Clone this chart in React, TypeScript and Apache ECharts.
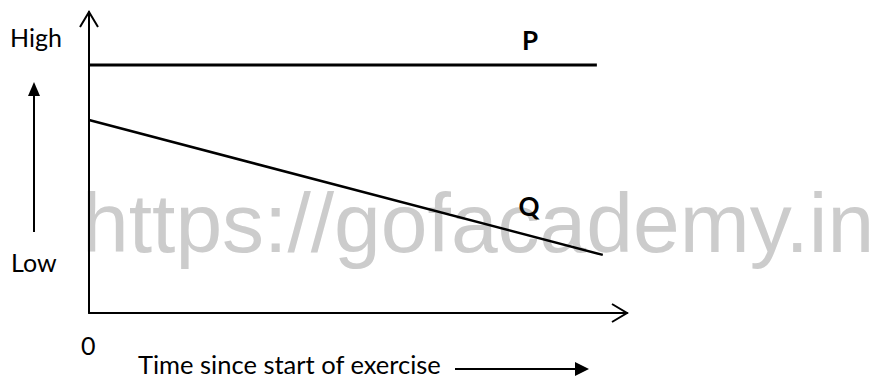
import React, { useEffect, useRef } from "react";
import * as echarts from "echarts";

const lineNames = ["P", "Q"];
const pData: [number, number][] = [
  [0, 82.4],
  [94.4, 82.4],
];
const qData: [number, number][] = [
  [0, 64.1],
  [95.5, 19.3],
];
const yLabels = ["High", "Low"];
const xLabel = "Time since start of exercise";
const originLabel = "0";
const watermark = "https://gofacademy.in";

export default function App() {
  const ref = useRef<HTMLDivElement>(null);
  useEffect(() => {
    if (!ref.current) return;
    const chart = echarts.init(ref.current, null, { renderer: "svg" });
    const labelFont = "Lato, 'Open Sans', sans-serif";
    chart.setOption({
      animation: false,
      backgroundColor: "#ffffff",
      grid: { left: 89, right: 246, top: 12, bottom: 65 },
      xAxis: {
        type: "value",
        min: 0,
        max: 100,
        axisLine: { show: true, lineStyle: { color: "#000", width: 2 } },
        axisTick: { show: false },
        axisLabel: { show: false },
        splitLine: { show: false },
      },
      yAxis: {
        type: "value",
        min: 0,
        max: 100,
        axisLine: { show: true, onZero: false, lineStyle: { color: "#000", width: 2 } },
        axisTick: { show: false },
        axisLabel: { show: false },
        splitLine: { show: false },
      },
      series: [
        {
          name: lineNames[0],
          type: "line",
          data: pData,
          showSymbol: false,
          lineStyle: { color: "#000", width: 3 },
          z: 5,
        },
        {
          name: lineNames[1],
          type: "line",
          data: qData,
          showSymbol: false,
          lineStyle: { color: "#000", width: 2.5 },
          z: 5,
        },
      ],
      graphic: [
        {
          type: "text",
          z: 0,
          x: 82,
          y: 223,
          style: {
            text: watermark,
            fill: "#cccccc",
            font: "84px 'Liberation Sans', Arial, sans-serif",
            verticalAlign: "middle",
          },
        },
        // y-axis open arrowhead
        {
          type: "polyline",
          z: 10,
          shape: { points: [[80, 27], [89, 12], [98, 27]] },
          style: { stroke: "#000", lineWidth: 2, fill: "none" },
        },
        // x-axis open arrowhead
        {
          type: "polyline",
          z: 10,
          shape: { points: [[612, 304], [627, 313], [612, 322]] },
          style: { stroke: "#000", lineWidth: 2, fill: "none" },
        },
        // left up arrow
        {
          type: "line",
          z: 10,
          shape: { x1: 34, y1: 232, x2: 34, y2: 94 },
          style: { stroke: "#000", lineWidth: 2 },
        },
        {
          type: "polygon",
          z: 10,
          shape: { points: [[28, 96], [34, 82], [40, 96]] },
          style: { fill: "#000" },
        },
        // bottom right arrow
        {
          type: "line",
          z: 10,
          shape: { x1: 455, y1: 369, x2: 578, y2: 369 },
          style: { stroke: "#000", lineWidth: 2 },
        },
        {
          type: "polygon",
          z: 10,
          shape: { points: [[575, 362], [589, 369], [575, 376]] },
          style: { fill: "#000" },
        },
        {
          type: "text",
          z: 10,
          x: 10,
          y: 37,
          style: { text: yLabels[0], fill: "#000", font: `25px ${labelFont}`, verticalAlign: "middle" },
        },
        {
          type: "text",
          z: 10,
          x: 11,
          y: 262,
          style: { text: yLabels[1], fill: "#000", font: `25px ${labelFont}`, verticalAlign: "middle" },
        },
        {
          type: "text",
          z: 10,
          x: 81,
          y: 345,
          style: { text: originLabel, fill: "#000", font: `25px ${labelFont}`, verticalAlign: "middle" },
        },
        {
          type: "text",
          z: 10,
          x: 138,
          y: 364,
          style: { text: xLabel, fill: "#000", font: `25.5px ${labelFont}`, verticalAlign: "middle" },
        },
        {
          type: "text",
          z: 10,
          x: 530,
          y: 40,
          style: { text: lineNames[0], fill: "#000", font: `bold 26px ${labelFont}`, align: "center", verticalAlign: "middle" },
        },
        {
          type: "text",
          z: 10,
          x: 529,
          y: 206,
          style: { text: lineNames[1], fill: "#000", font: `bold 26px ${labelFont}`, align: "center", verticalAlign: "middle" },
        },
      ],
    });
    return () => chart.dispose();
  }, []);
  return (
    <div
      ref={ref}
      style={{ position: "fixed", left: 0, top: 0, width: 873, height: 378 }}
    />
  );
}
